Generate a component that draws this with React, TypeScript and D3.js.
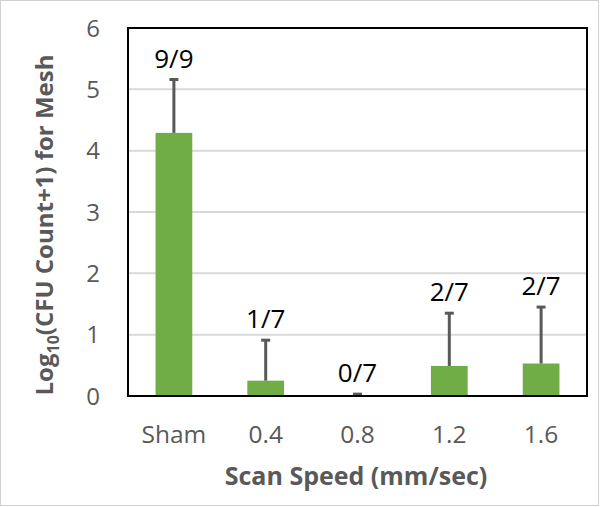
import React from "react";
import * as d3 from "d3";

const categories = ["Sham", "0.4", "0.8", "1.2", "1.6"];
const values = [4.29, 0.25, 0.0, 0.49, 0.53];
const errors = [0.87, 0.66, 0.03, 0.86, 0.92];
const labels = ["9/9", "1/7", "0/7", "2/7", "2/7"];
const yTicks = [0, 1, 2, 3, 4, 5, 6];

const W = 600;
const H = 507;
const left = 128;
const right = 587;
const top = 28;
const bottom = 396;

export default function App() {
  const x = d3.scaleBand<string>().domain(categories).range([left, right]).paddingInner(0.6).paddingOuter(0.3);
  const y = d3.scaleLinear().domain([0, 6]).range([bottom, top]);
  const font = "'Open Sans', sans-serif";
  const grey = "#595959";
  return (
    <svg width={W} height={H} style={{ position: "absolute", left: 0, top: 0, background: "#fff" }} fontFamily={font}>
      <rect x={0.5} y={0.5} width={W - 2} height={H - 2} fill="#fff" stroke="#d0d0d0" strokeWidth={1} />
      {yTicks.filter((t) => t > 0 && t < 6).map((t) => (
        <line key={t} x1={left} x2={right} y1={y(t)} y2={y(t)} stroke="#d9d9d9" strokeWidth={2} />
      ))}
      {yTicks.map((t) => (
        <text key={t} x={100} y={y(t)} dy="0.36em" textAnchor="end" fontSize={24} fill={grey}>
          {t}
        </text>
      ))}
      {categories.map((c, i) => {
        const cx = (x(c) as number) + x.bandwidth() / 2;
        const yv = y(values[i]);
        const ye = y(values[i] + errors[i]);
        return (
          <g key={c}>
            <rect x={x(c)} y={yv} width={x.bandwidth()} height={bottom - yv} fill="#70AD47" />
            <line x1={cx} x2={cx} y1={yv} y2={ye} stroke={grey} strokeWidth={3} />
            <line x1={cx - 4.5} x2={cx + 4.5} y1={ye} y2={ye} stroke={grey} strokeWidth={3} />
            <text x={cx} y={ye - 12} textAnchor="middle" fontSize={26} fill="#000">
              {labels[i]}
            </text>
            <text x={cx} y={443} textAnchor="middle" fontSize={24.5} fill={grey}>
              {c}
            </text>
          </g>
        );
      })}
      <rect x={left} y={top} width={right - left} height={bottom - top} fill="none" stroke="#000" strokeWidth={2} />
      <text x={356} y={485} textAnchor="middle" fontSize={25} fontWeight="bold" fill={grey}>
        Scan Speed (mm/sec)
      </text>
      <text transform={`translate(53, 225) rotate(-90)`} textAnchor="middle" fontSize={24} fontWeight="bold" fill={grey}>
        Log
        <tspan fontSize={16} dy={6}>10</tspan>
        <tspan dy={-6}>(CFU Count+1) for Mesh</tspan>
      </text>
    </svg>
  );
}
